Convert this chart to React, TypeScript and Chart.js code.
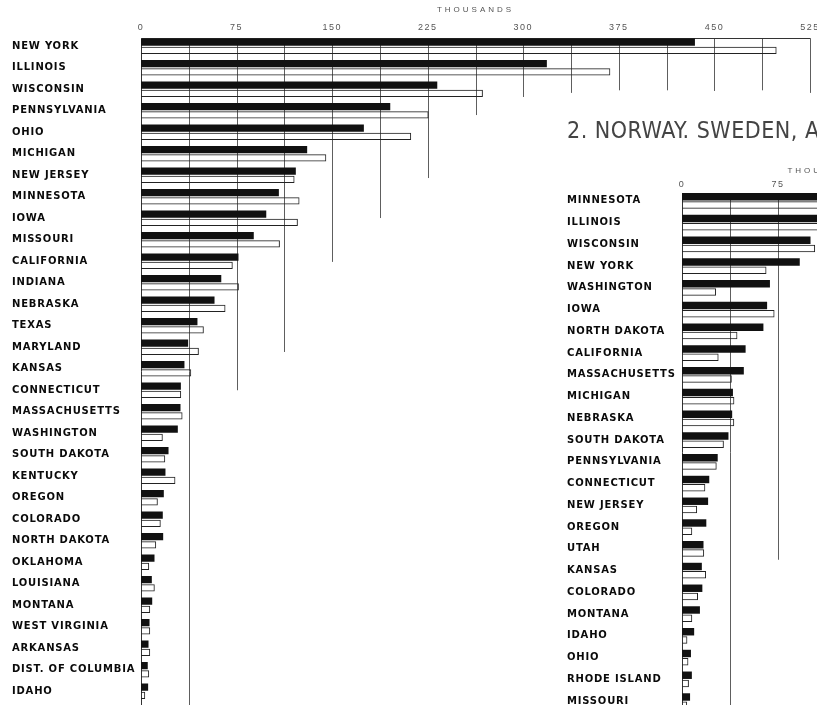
import React, { useEffect, useRef } from "react";
import { Chart, registerables } from "chart.js";

Chart.register(...registerables);

// ---------- Panel 1 (left) ----------
const leftStates = [
  "NEW YORK", "ILLINOIS", "WISCONSIN", "PENNSYLVANIA", "OHIO", "MICHIGAN",
  "NEW JERSEY", "MINNESOTA", "IOWA", "MISSOURI", "CALIFORNIA", "INDIANA",
  "NEBRASKA", "TEXAS", "MARYLAND", "KANSAS", "CONNECTICUT", "MASSACHUSETTS",
  "WASHINGTON", "SOUTH DAKOTA", "KENTUCKY", "OREGON", "COLORADO",
  "NORTH DAKOTA", "OKLAHOMA", "LOUISIANA", "MONTANA", "WEST VIRGINIA",
  "ARKANSAS", "DIST. OF COLUMBIA", "IDAHO",
];
// black bars (thousands)
const leftBlack = [
  434.7, 318.5, 232.5, 195.6, 174.9, 130.4, 121.5, 108.2, 98.3, 88.5, 76.5,
  63.0, 57.7, 44.3, 37.0, 34.1, 31.3, 31.0, 28.9, 21.6, 19.2, 17.9, 17.1,
  17.4, 10.6, 8.5, 8.8, 6.7, 5.9, 5.3, 5.6,
];
// outlined bars (thousands)
const leftWhite = [
  498.8, 368.3, 268.3, 225.7, 212.0, 145.4, 120.5, 124.4, 123.1, 109.0, 72.0,
  76.8, 66.3, 49.3, 45.4, 39.4, 31.5, 32.6, 17.1, 19.0, 27.0, 13.2, 15.5,
  11.9, 6.4, 10.8, 7.2, 7.2, 7.2, 6.4, 3.3,
];
const leftTicks = [0, 75, 150, 225, 300, 375, 450, 525];
const leftGridValues = [37.5, 75, 112.5, 150, 187.5, 225, 262.5, 300, 337.5, 375, 412.5, 450, 487.5, 525];
// row index (fractional) at which each grid line stops; null = runs to the bottom
const leftGridEnds = [null, 16.0, 14.22, 10.03, 7.99, 6.13, 3.2, 2.36, 2.17, 2.05, 2.05, 2.08, 2.05, 2.17];

// ---------- Panel 2 (right) ----------
const rightTitle = "2. NORWAY. SWEDEN, AND DENMARK";
const rightStates = [
  "MINNESOTA", "ILLINOIS", "WISCONSIN", "NEW YORK", "WASHINGTON", "IOWA",
  "NORTH DAKOTA", "CALIFORNIA", "MASSACHUSETTS", "MICHIGAN", "NEBRASKA",
  "SOUTH DAKOTA", "PENNSYLVANIA", "CONNECTICUT", "NEW JERSEY", "OREGON",
  "UTAH", "KANSAS", "COLORADO", "MONTANA", "IDAHO", "OHIO", "RHODE ISLAND",
  "MISSOURI",
];
const rightBlack = [
  220, 165, 100.4, 92.0, 68.7, 66.5, 63.6, 49.7, 48.3, 39.8, 39.2, 36.3, 27.9,
  21.3, 20.4, 19.0, 16.8, 15.5, 15.9, 14.0, 9.5, 7.0, 7.7, 6.3,
];
const rightWhite = [
  210, 145, 104.0, 66.0, 26.6, 72.3, 43.3, 28.6, 38.9, 40.9, 40.8, 32.7, 27.1,
  18.2, 11.8, 8.0, 17.3, 18.8, 12.5, 8.0, 4.2, 5.0, 5.4, 4.0,
];
const rightTicks = [0, 75, 150, 225];
const rightGridValues = [37.5, 75, 112.5, 150, 187.5, 225];
const rightGridEnds = [null, 16.5, 4.2, 2.5, 1.5, 1.5];

const LABEL_FONT = '"DejaVu Sans", "Liberation Sans", sans-serif';
const NUM_FONT = '"Liberation Sans", Arial, sans-serif';
const TITLE_FONT = '"DejaVu Sans Condensed", "Liberation Sans Narrow", "DejaVu Sans", sans-serif';

function wrapSpacing(target: any, method: string, spacing: string) {
  if (!target || !target[method] || target["__sp_" + method]) return;
  const orig = target[method];
  target[method] = function (...args: any[]) {
    const ctx = this.ctx;
    ctx.save();
    (ctx as any).letterSpacing = spacing;
    const r = orig.apply(this, args);
    ctx.restore();
    return r;
  };
  target["__sp_" + method] = true;
}

function spacingPlugin() {
  return {
    id: "letterSpacing",
    beforeDraw(chart: any) {
      wrapSpacing(chart.scales.x, "drawLabels", "1.5px");
      wrapSpacing(chart.scales.x, "drawTitle", "3px");
      wrapSpacing(chart.scales.y, "drawLabels", "0.8px");
      if (chart.titleBlock) wrapSpacing(chart.titleBlock, "draw", "0.5px");
    },
  };
}

function stairGridPlugin(values: number[], ends: (number | null)[]) {
  return {
    id: "stairGrid",
    beforeDatasetsDraw(chart: any) {
      const { ctx } = chart;
      const x = chart.scales.x;
      const y = chart.scales.y;
      const first: any = chart.getDatasetMeta(0).data[0];
      const top = Math.round(first.y - first.height / 2) + 0.5;
      ctx.save();
      ctx.lineWidth = 1;
      ctx.strokeStyle = "#5e5e5e";
      values.forEach((v, i) => {
        const px = Math.round(x.getPixelForValue(v)) + 0.5;
        const e = ends[i];
        const endY = e == null ? chart.height : y.getPixelForValue(e);
        ctx.beginPath();
        ctx.moveTo(px, top);
        ctx.lineTo(px, endY);
        ctx.stroke();
      });
      const x0 = Math.round(x.getPixelForValue(0)) + 0.5;
      const x1 = Math.round(x.getPixelForValue(x.max)) + 0.5;
      ctx.strokeStyle = "#333";
      ctx.beginPath();
      ctx.moveTo(x0, top);
      ctx.lineTo(x1, top);
      ctx.stroke();
      ctx.beginPath();
      ctx.moveTo(x0, top);
      ctx.lineTo(x0, chart.height);
      ctx.stroke();
      ctx.restore();
    },
  };
}

type PanelOpts = {
  labels: string[];
  black: number[];
  white: number[];
  ticks: number[];
  max: number;
  gridValues: number[];
  gridEnds: (number | null)[];
  padding: { left: number; right: number; top: number; bottom: number };
  yWidth: number;
  xHeight: number;
  tickPad: number;
  axisTitlePadTop: number;
  title?: string;
  titlePadTop?: number;
};

function makeConfig(o: PanelOpts): any {
  return {
    type: "bar",
    data: {
      labels: o.labels,
      datasets: [
        {
          data: o.black,
          backgroundColor: "#111",
          borderWidth: 0,
          categoryPercentage: 0.76,
          barPercentage: 0.9,
        },
        {
          data: o.white,
          backgroundColor: "rgba(255,255,255,0)",
          borderColor: "#222",
          borderWidth: 1,
          categoryPercentage: 0.76,
          barPercentage: 0.9,
        },
      ],
    },
    options: {
      indexAxis: "y",
      responsive: false,
      animation: false,
      layout: { padding: o.padding },
      plugins: {
        legend: { display: false },
        tooltip: { enabled: false },
        title: o.title
          ? {
              display: true,
              text: o.title,
              align: "start",
              color: "#444",
              font: { family: TITLE_FONT, size: 23, weight: "normal", lineHeight: 1.2 },
              padding: { top: o.titlePadTop || 0, bottom: 0 },
            }
          : { display: false },
      },
      scales: {
        x: {
          type: "linear",
          position: "top",
          min: 0,
          max: o.max,
          grid: { display: false, drawTicks: false },
          border: { display: false },
          afterBuildTicks: (s: any) => {
            s.ticks = o.ticks.map((v) => ({ value: v }));
          },
          afterFit: (s: any) => {
            s.height = o.xHeight;
            s.paddingLeft = 0;
            s.paddingRight = 0;
          },
          ticks: {
            autoSkip: false,
            maxRotation: 0,
            padding: o.tickPad,
            color: "#555",
            font: { family: NUM_FONT, size: 9, lineHeight: 1.2 },
          },
          title: {
            display: true,
            text: "THOUSANDS",
            color: "#555",
            font: { family: NUM_FONT, size: 8, lineHeight: 1.2 },
            padding: { top: o.axisTitlePadTop, bottom: 0 },
          },
        },
        y: {
          type: "category",
          grid: { display: false, drawTicks: false },
          border: { display: false },
          afterFit: (s: any) => {
            s.width = o.yWidth;
            s.paddingTop = 0;
            s.paddingBottom = 0;
          },
          ticks: {
            autoSkip: false,
            crossAlign: "far",
            padding: 0,
            color: "#0a0a0a",
            font: { family: LABEL_FONT, size: 10, weight: "bold", lineHeight: 1.2 },
          },
        },
      },
    },
    plugins: [stairGridPlugin(o.gridValues, o.gridEnds), spacingPlugin()],
  };
}

export default function App() {
  const leftRef = useRef<HTMLCanvasElement>(null);
  const rightRef = useRef<HTMLCanvasElement>(null);

  useEffect(() => {
    const c1 = new Chart(
      leftRef.current as HTMLCanvasElement,
      makeConfig({
        labels: leftStates,
        black: leftBlack,
        white: leftWhite,
        ticks: leftTicks,
        max: 525,
        gridValues: leftGridValues,
        gridEnds: leftGridEnds,
        padding: { left: 12, right: 7, top: 0, bottom: 3 },
        yWidth: 129,
        xHeight: 35.5,
        tickPad: 2.1,
        axisTitlePadTop: 5.2,
      })
    );
    const c2 = new Chart(
      rightRef.current as HTMLCanvasElement,
      makeConfig({
        labels: rightStates,
        black: rightBlack,
        white: rightWhite,
        ticks: rightTicks,
        max: 225,
        gridValues: rightGridValues,
        gridEnds: rightGridEnds,
        padding: { left: 11, right: 11, top: 0, bottom: 0 },
        yWidth: 115,
        xHeight: 44,
        tickPad: 0.4,
        axisTitlePadTop: 19.6,
        title: rightTitle,
        titlePadTop: 20.4,
      })
    );
    return () => {
      c1.destroy();
      c2.destroy();
    };
  }, []);

  return (
    <div
      style={{
        position: "absolute",
        left: 0,
        top: 0,
        width: 817,
        height: 705,
        overflow: "hidden",
        background: "#fff",
      }}
    >
      <canvas
        ref={leftRef}
        width={817}
        height={705}
        style={{ position: "absolute", left: 0, top: 0 }}
      />
      <canvas
        ref={rightRef}
        width={425}
        height={614}
        style={{ position: "absolute", left: 556, top: 98 }}
      />
    </div>
  );
}
